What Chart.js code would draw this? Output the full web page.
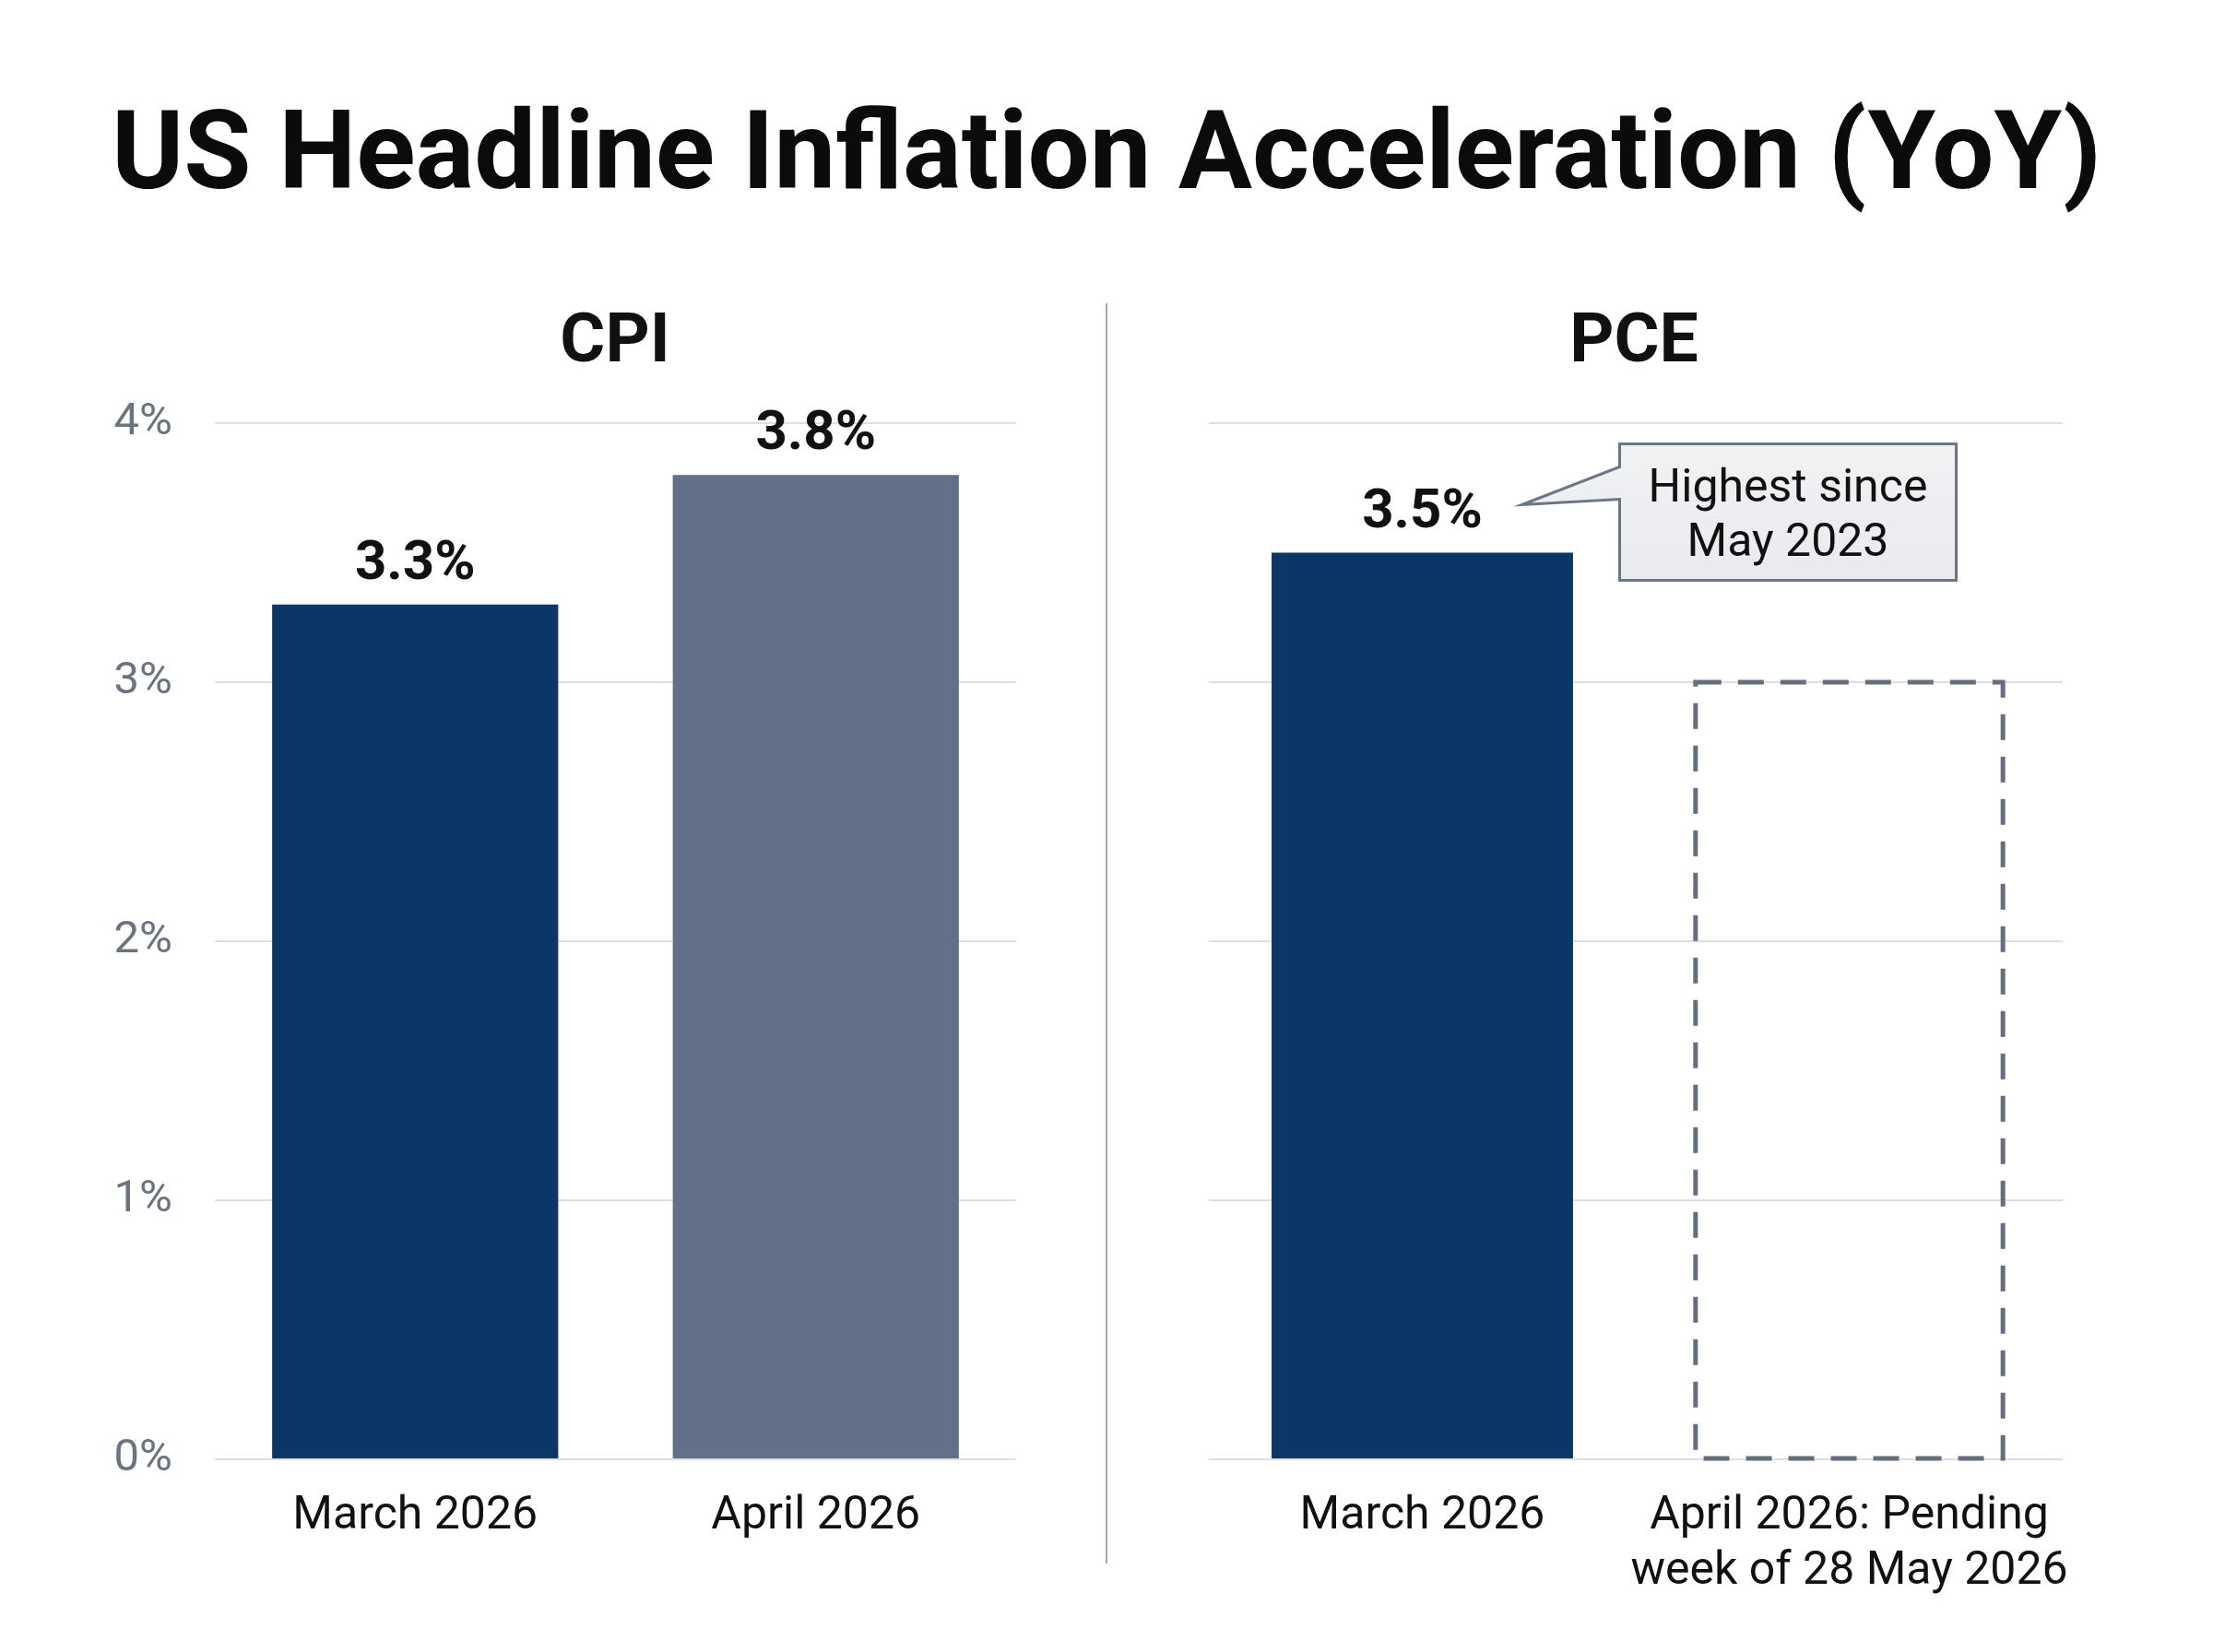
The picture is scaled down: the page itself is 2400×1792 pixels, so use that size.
<!DOCTYPE html>
<html>
<head>
<meta charset="utf-8">
<title>US Headline Inflation Acceleration (YoY)</title>
<script src="https://cdn.jsdelivr.net/npm/chart.js@4.4.1/dist/chart.umd.min.js"></script>
<style>
  html, body { margin: 0; padding: 0; background: #ffffff; }
  body { width: 2400px; height: 1792px; position: relative; overflow: hidden; font-family: Roboto, "Noto Sans", sans-serif; }
  #title { position: absolute; left: 0; top: 104px; width: 2400px; text-align: center; font-size: 119px; line-height: 1; font-weight: 700; color: #0b0b0b; }
  .panel-title { position: absolute; top: 329px; width: 600px; text-align: center; font-size: 75px; line-height: 1; font-weight: 700; color: #111111; }
  #divider { position: absolute; left: 1199px; top: 329px; width: 2px; height: 1367px; background: #a3a7ad; }
  canvas { position: absolute; top: 400px; }
</style>
</head>
<body>
<div id="title">US Headline Inflation Acceleration (YoY)</div>
<div class="panel-title" style="left:367px">CPI</div>
<div class="panel-title" style="left:1472px">PCE</div>
<div id="divider"></div>
<canvas id="cpiChart" width="1200" height="1392" style="left:0"></canvas>
<canvas id="pceChart" width="1200" height="1392" style="left:1200px"></canvas>

<script>
// values, in percent YoY
const cpiLabels = ['March 2026', 'April 2026'];
const cpiValues = [3.3, 3.8];
const cpiColors = ['#0a3768', '#627189'];

const pceLabels = ['March 2026', ['April 2026: Pending', 'week of 28 May 2026']];
const pceValues = [3.5, null];
const pcePlaceholder = [null, 3.0]; // dashed outline, no release yet

const yTicks = [0, 1, 2, 3, 4];
const calloutLines = ['Highest since', 'May 2023'];

const FONT = 'Roboto, "Noto Sans", sans-serif';

// value labels on top of the real bars
const valueLabels = {
  id: 'valueLabels',
  afterDatasetsDraw(chart) {
    const ctx = chart.ctx;
    const meta = chart.getDatasetMeta(0);
    const data = chart.data.datasets[0].data;
    ctx.save();
    ctx.font = '700 60px ' + FONT;
    ctx.fillStyle = '#111111';
    ctx.textAlign = 'center';
    ctx.textBaseline = 'alphabetic';
    meta.data.forEach((bar, i) => {
      if (data[i] == null) return;
      ctx.fillText(data[i].toFixed(1) + '%', bar.x, bar.y - 28);
    });
    ctx.restore();
  }
};

// dashed outline for the pending PCE bar
const pendingOutline = {
  id: 'pendingOutline',
  afterDatasetsDraw(chart) {
    const ctx = chart.ctx;
    const meta = chart.getDatasetMeta(1);
    ctx.save();
    ctx.strokeStyle = '#646e7e';
    ctx.lineWidth = 5;
    ctx.setLineDash([28, 18]);
    meta.data.forEach((bar, i) => {
      if (pcePlaceholder[i] == null) return;
      const w = bar.width;
      ctx.strokeRect(bar.x - w / 2, bar.y, w, bar.base - bar.y);
    });
    ctx.restore();
  }
};

// "Highest since May 2023" callout pointing at the March PCE label
const callout = {
  id: 'callout',
  afterDraw(chart) {
    const ctx = chart.ctx;
    const bar = chart.getDatasetMeta(0).data[0];
    const tipX = bar.x + 108, tipY = bar.y - 52;
    const bx = bar.x + 214, by = bar.y - 118, bw = 365, bh = 148;
    ctx.save();
    const g = ctx.createLinearGradient(0, by, 0, by + bh);
    g.addColorStop(0, '#f1f2f4');
    g.addColorStop(1, '#e8eaed');
    ctx.fillStyle = g;
    ctx.strokeStyle = '#6b7585';
    ctx.lineWidth = 3;
    ctx.beginPath();
    ctx.moveTo(bx, by);
    ctx.lineTo(bx + bw, by);
    ctx.lineTo(bx + bw, by + bh);
    ctx.lineTo(bx, by + bh);
    ctx.lineTo(bx, by + 60);
    ctx.lineTo(tipX, tipY);
    ctx.lineTo(bx, by + 25);
    ctx.closePath();
    ctx.fill();
    ctx.stroke();
    ctx.fillStyle = '#111111';
    ctx.font = '400 50px ' + FONT;
    ctx.textAlign = 'center';
    ctx.textBaseline = 'middle';
    calloutLines.forEach((line, i) => {
      ctx.fillText(line, bx + bw / 2, by + 50 + i * 59);
    });
    ctx.restore();
  }
};

function baseOptions(showTicks, axisWidth, padRight) {
  return {
    responsive: false,
    animation: false,
    devicePixelRatio: 1,
    layout: { padding: { top: 59, right: padRight, bottom: 0, left: 0 } },
    plugins: { legend: { display: false }, tooltip: { enabled: false } },
    scales: {
      x: {
        grid: { display: false, drawTicks: false },
        border: { display: false },
        ticks: {
          color: '#111111',
          padding: 32,
          font: { family: FONT, size: 50, lineHeight: 1.2 },
          maxRotation: 0,
          autoSkip: false
        },
        afterFit(scale) { scale.height = 209; }
      },
      y: {
        min: 0,
        max: 4,
        afterBuildTicks(scale) { scale.ticks = yTicks.map(v => ({ value: v })); },
        grid: { color: '#dcdfe3', lineWidth: 2, drawTicks: false },
        border: { display: false },
        ticks: {
          display: showTicks,
          color: '#6b7280',
          padding: 46,
          font: { family: FONT, size: 49 },
          callback: v => v + '%'
        },
        afterFit(scale) {
          scale.width = axisWidth;
          // keep both panels on the same plot height
          scale.paddingTop = 0;
          scale.paddingBottom = 0;
        }
      }
    }
  };
}

new Chart(document.getElementById('cpiChart'), {
  type: 'bar',
  data: {
    labels: cpiLabels,
    datasets: [{
      data: cpiValues,
      backgroundColor: cpiColors,
      borderWidth: 0,
      categoryPercentage: 1,
      barPercentage: 0.714
    }]
  },
  options: baseOptions(true, 233, 98),
  plugins: [valueLabels]
});

new Chart(document.getElementById('pceChart'), {
  type: 'bar',
  data: {
    labels: pceLabels,
    datasets: [
      {
        data: pceValues,
        backgroundColor: '#0a3768',
        borderWidth: 0,
        grouped: false,
        categoryPercentage: 1,
        barPercentage: 0.706
      },
      {
        data: pcePlaceholder,
        backgroundColor: 'rgba(255,255,255,0)',
        borderWidth: 0,
        grouped: false,
        categoryPercentage: 1,
        barPercentage: 0.72
      }
    ]
  },
  options: baseOptions(false, 111, 163),
  plugins: [valueLabels, pendingOutline, callout]
});
</script>
</body>
</html>
